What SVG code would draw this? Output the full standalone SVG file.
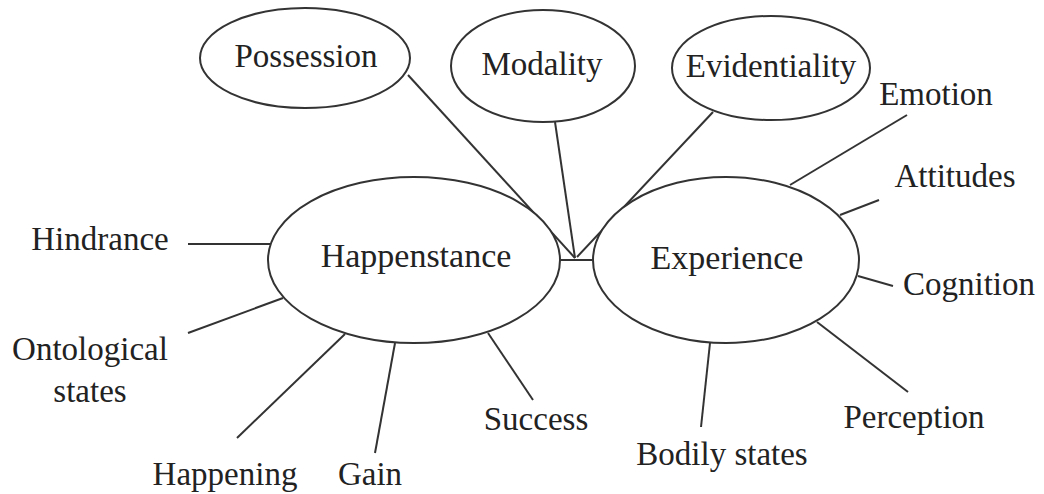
<svg xmlns="http://www.w3.org/2000/svg" width="1044" height="494" viewBox="0 0 1044 494">
<style>
.n ellipse{fill:#fff;stroke:#333;stroke-width:2}
text{font-family:"Liberation Serif","Times New Roman",serif;font-size:33px;fill:#222;text-anchor:middle}
.c line{stroke:#333;stroke-width:2}
</style>
<rect width="1044" height="494" fill="#fff"/>
<g class="c" id="connectors">
<line x1="408" y1="75" x2="575" y2="258"/>
<line x1="555" y1="122" x2="575" y2="258"/>
<line x1="713" y1="112" x2="577" y2="257"/>
<line x1="558" y1="260" x2="592" y2="260"/>
<line x1="188" y1="244" x2="272" y2="244"/>
<line x1="188" y1="333" x2="283" y2="298"/>
<line x1="237" y1="438" x2="345" y2="334"/>
<line x1="375" y1="453" x2="395" y2="343"/>
<line x1="533" y1="400" x2="488" y2="333"/>
<line x1="907" y1="115" x2="790" y2="185"/>
<line x1="879" y1="200" x2="840" y2="215"/>
<line x1="893" y1="286" x2="858" y2="276"/>
<line x1="908" y1="392" x2="817" y2="322"/>
<line x1="701" y1="427" x2="710" y2="343"/>
</g>
<g class="n" id="possession"><ellipse cx="305" cy="58" rx="105" ry="50"/><text x="306" y="67">Possession</text></g>
<g class="n" id="modality"><ellipse cx="543" cy="66" rx="92" ry="56"/><text x="542" y="75">Modality</text></g>
<g class="n" id="evidentiality"><ellipse cx="771" cy="68" rx="99" ry="52"/><text x="771" y="77">Evidentiality</text></g>
<g class="n" id="happenstance"><ellipse cx="414" cy="260" rx="146" ry="83"/><text x="416" y="267" style="font-size:34px">Happenstance</text></g>
<g class="n" id="experience"><ellipse cx="726" cy="260" rx="133" ry="83"/><text x="727" y="269" style="font-size:34px">Experience</text></g>
<g id="hindrance"><text x="100" y="250">Hindrance</text></g>
<g id="ontological"><text x="90" y="360">Ontological</text><text x="90" y="402">states</text></g>
<g id="happening"><text x="225" y="485">Happening</text></g>
<g id="gain"><text x="370" y="485">Gain</text></g>
<g id="success"><text x="536" y="430">Success</text></g>
<g id="emotion"><text x="936" y="105">Emotion</text></g>
<g id="attitudes"><text x="955" y="187">Attitudes</text></g>
<g id="cognition"><text x="969" y="295">Cognition</text></g>
<g id="perception"><text x="914" y="428">Perception</text></g>
<g id="bodily"><text x="722" y="465">Bodily states</text></g>
</svg>
